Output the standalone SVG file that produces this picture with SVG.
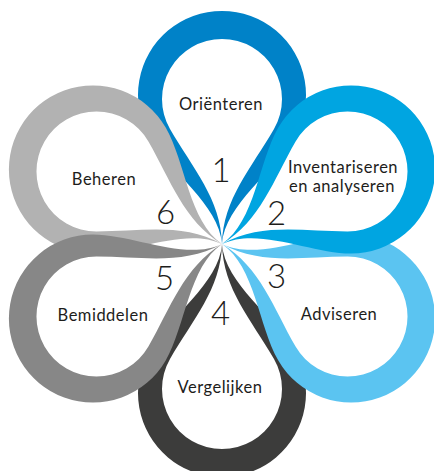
<svg xmlns="http://www.w3.org/2000/svg" width="434" height="471" viewBox="0 0 434 471">
  <defs>
    <path id="petal" fill-rule="evenodd" d="M0 0 C3 -40 52.7 -72.4 72.7 -107 A84 84 0 1 0 -72.7 -107 C-52.7 -72.4 -3 -40 0 0 Z M0 0 C1 -45 29.5 -76 52 -115 A60 60 0 1 0 -52 -115 C-29.5 -76 -1 -45 0 0 Z"/>
  </defs>
  <style>
    .lbl { font-family: Lato, "Liberation Sans", sans-serif; font-size: 16.5px; fill: #1d1d1b; text-anchor: middle; letter-spacing: 0.5px; }
    .num { font-family: Lato, "Liberation Sans", sans-serif; font-size: 33px; font-weight: 300; fill: #1d1d1b; text-anchor: middle; }
  </style>
  <rect width="434" height="471" fill="#ffffff"/>
  <g id="connectors"/>
  <g id="petal-1">
    <use href="#petal" transform="translate(222,244) rotate(0)" fill="#0082C8"/>
  </g>
  <g id="petal-4">
    <use href="#petal" transform="translate(222,244) rotate(180)" fill="#3C3C3B"/>
  </g>
  <g id="petal-3">
    <use href="#petal" transform="translate(222,244) rotate(120)" fill="#5BC4F1"/>
  </g>
  <g id="petal-6">
    <use href="#petal" transform="translate(222,244) rotate(300)" fill="#B2B2B2"/>
  </g>
  <g id="petal-2">
    <use href="#petal" transform="translate(222,244) rotate(60)" fill="#00A5E1"/>
  </g>
  <g id="petal-5">
    <use href="#petal" transform="translate(222,244) rotate(240)" fill="#878787"/>
  </g>
  <g id="labels">
    <text class="lbl" x="221" y="110">Oriënteren</text>
    <text class="lbl" x="343" y="173">Inventariseren</text>
    <text class="lbl" x="342" y="192">en analyseren</text>
    <text class="lbl" x="339" y="320">Adviseren</text>
    <text class="lbl" x="220" y="393">Vergelijken</text>
    <text class="lbl" x="103" y="321">Bemiddelen</text>
    <text class="lbl" x="104" y="185">Beheren</text>
    <text class="num" x="221" y="182">1</text>
    <text class="num" x="276.5" y="225">2</text>
    <text class="num" x="276.5" y="288">3</text>
    <text class="num" x="220.5" y="325">4</text>
    <text class="num" x="164.5" y="290">5</text>
    <text class="num" x="165.5" y="224">6</text>
  </g>
</svg>
